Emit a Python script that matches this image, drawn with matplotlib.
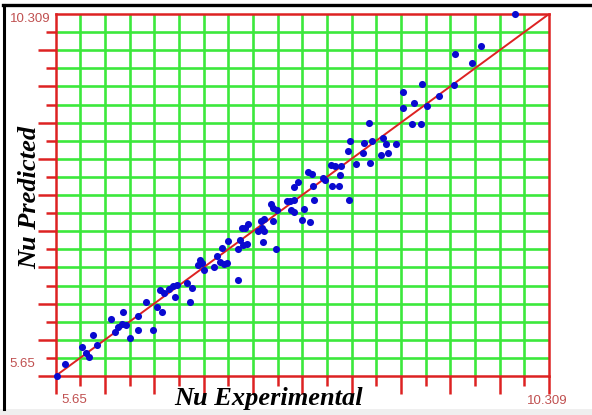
import numpy as np
import matplotlib
matplotlib.use("Agg")
import matplotlib.pyplot as plt
from matplotlib.lines import Line2D
from matplotlib.patches import Rectangle

AXIS_MIN = 5.65
AXIS_MAX = 10.309
N_DIV = 20

nu_experimental = [
    5.66, 5.74, 5.90, 5.94, 5.97, 6.00, 6.04, 6.17, 6.21, 6.24,
    6.28, 6.32, 6.29, 6.35, 6.43, 6.43, 6.50, 6.57, 6.61, 6.66,
    6.64, 6.67, 6.72, 6.76, 6.80, 6.78, 6.92, 6.89, 6.94, 7.01,
    7.03, 7.00, 7.05, 7.15, 7.17, 7.20, 7.24, 7.27, 7.22, 7.28,
    7.37, 7.37, 7.39, 7.42, 7.46, 7.41, 7.44, 7.47, 7.56, 7.60,
    7.59, 7.62, 7.62, 7.61, 7.70, 7.73, 7.68, 7.70, 7.74, 7.84,
    7.86, 7.90, 7.87, 7.90, 7.90, 7.94, 8.00, 8.09, 7.98, 8.05,
    8.03, 8.07, 8.08, 8.18, 8.19, 8.25, 8.29, 8.35, 8.34, 8.26,
    8.33, 8.42, 8.41, 8.43, 8.49, 8.55, 8.56, 8.64, 8.61, 8.62,
    8.72, 8.74, 8.77, 8.79, 8.86, 8.93, 8.93, 9.02, 9.10, 9.03,
    9.16, 9.11, 9.27, 9.41, 9.42, 9.58, 9.67, 9.99,
]
nu_predicted = [
    5.65, 5.80, 6.02, 5.95, 5.89, 6.18, 6.05, 6.39, 6.22, 6.28,
    6.32, 6.31, 6.48, 6.14, 6.42, 6.24, 6.60, 6.24, 6.54, 6.47,
    6.76, 6.72, 6.77, 6.81, 6.82, 6.67, 6.60, 6.85, 6.78, 7.14,
    7.11, 7.08, 7.01, 7.05, 7.20, 7.12, 7.09, 7.11, 7.30, 7.39,
    6.88, 7.29, 7.40, 7.34, 7.35, 7.55, 7.56, 7.60, 7.52, 7.55,
    7.65, 7.67, 7.52, 7.38, 7.64, 7.29, 7.86, 7.81, 7.79, 7.90,
    7.90, 7.91, 7.79, 7.76, 8.08, 8.15, 7.80, 7.92, 7.66, 7.63,
    8.27, 8.25, 8.10, 8.20, 8.17, 8.37, 8.35, 8.35, 8.24, 8.10,
    8.10, 7.91, 8.55, 8.67, 8.38, 8.52, 8.65, 8.68, 8.91, 8.39,
    8.49, 8.71, 8.64, 8.52, 8.64, 9.10, 9.30, 8.89, 8.89, 9.16,
    9.12, 9.41, 9.25, 9.40, 9.80, 9.68, 9.90, 10.31,
]

RED = "#dd2222"
GREEN = "#3ce83c"
BLUE = "#0a0ad0"
LABEL_RED = "#c05050"

W, H = 592, 415


def fx(px):
    return px / W


def fy(py):
    return 1 - py / H


fig = plt.figure(figsize=(W / 100, H / 100), dpi=100)
fig.patch.set_facecolor("white")

# window frame left over from the screenshot
fig.add_artist(Rectangle((0, 0), 1, fy(409), transform=fig.transFigure,
                         facecolor="#efefef", edgecolor="none", zorder=0))
fig.add_artist(Line2D([fx(3), 1], [fy(5), fy(5)], color="black", lw=2.4,
                      transform=fig.transFigure))
fig.add_artist(Line2D([fx(4), fx(4)], [fy(5), fy(409)], color="black",
                      lw=2.2, transform=fig.transFigure))

ax = fig.add_axes([fx(55.5), fy(376), fx(549) - fx(55.5), fy(14) - fy(376)])
ax.set_xlim(AXIS_MIN, AXIS_MAX)
ax.set_ylim(AXIS_MIN, AXIS_MAX)

grid = np.linspace(AXIS_MIN, AXIS_MAX, N_DIV + 1)
for g in grid[1:-1]:
    ax.axvline(g, color=GREEN, lw=1.9, zorder=1)
    ax.axhline(g, color=GREEN, lw=1.9, zorder=1)

for sp in ax.spines.values():
    sp.set_color(RED)
    sp.set_linewidth(1.8)
    sp.set_zorder(3)

ax.set_xticks(grid[::2])
ax.set_xticks(grid[1::2], minor=True)
ax.set_yticks(grid[:-1:2])
ax.set_yticks(grid[1::2], minor=True)
ax.tick_params(which="major", length=13, width=1.8, color=RED,
               direction="out", labelbottom=False, labelleft=False)
ax.tick_params(which="minor", length=7, width=1.8, color=RED,
               direction="out")

ax.plot([AXIS_MIN, AXIS_MAX], [AXIS_MIN, AXIS_MAX], color=RED, lw=1.4,
        zorder=2)
ax.scatter(nu_experimental, nu_predicted, s=26, color=BLUE, zorder=4,
           linewidths=0, clip_on=False)

tick_font = dict(family="Liberation Sans", fontsize=9.5, color=LABEL_RED,
                 va="center", ha="left")
fig.text(fx(61), fy(400), f"{AXIS_MIN:.2f}", **tick_font)
fig.text(fx(527), fy(401), f"{AXIS_MAX:.3f}", **tick_font)
fig.text(fx(9), fy(364), f"{AXIS_MIN:.2f}", **tick_font)
fig.text(fx(10), fy(19), f"{AXIS_MAX:.3f}", **tick_font)

label_font = dict(family="Liberation Serif", fontsize=19, fontweight="bold",
                  style="italic", color="black")
fig.text(fx(174), fy(398), "Nu Experimental", ha="left", va="center",
         **label_font)
fig.text(fx(30), fy(197), "Nu Predicted", ha="center", va="center",
         rotation=90, **label_font)

fig.savefig("out.png", dpi=100, facecolor=fig.get_facecolor())
